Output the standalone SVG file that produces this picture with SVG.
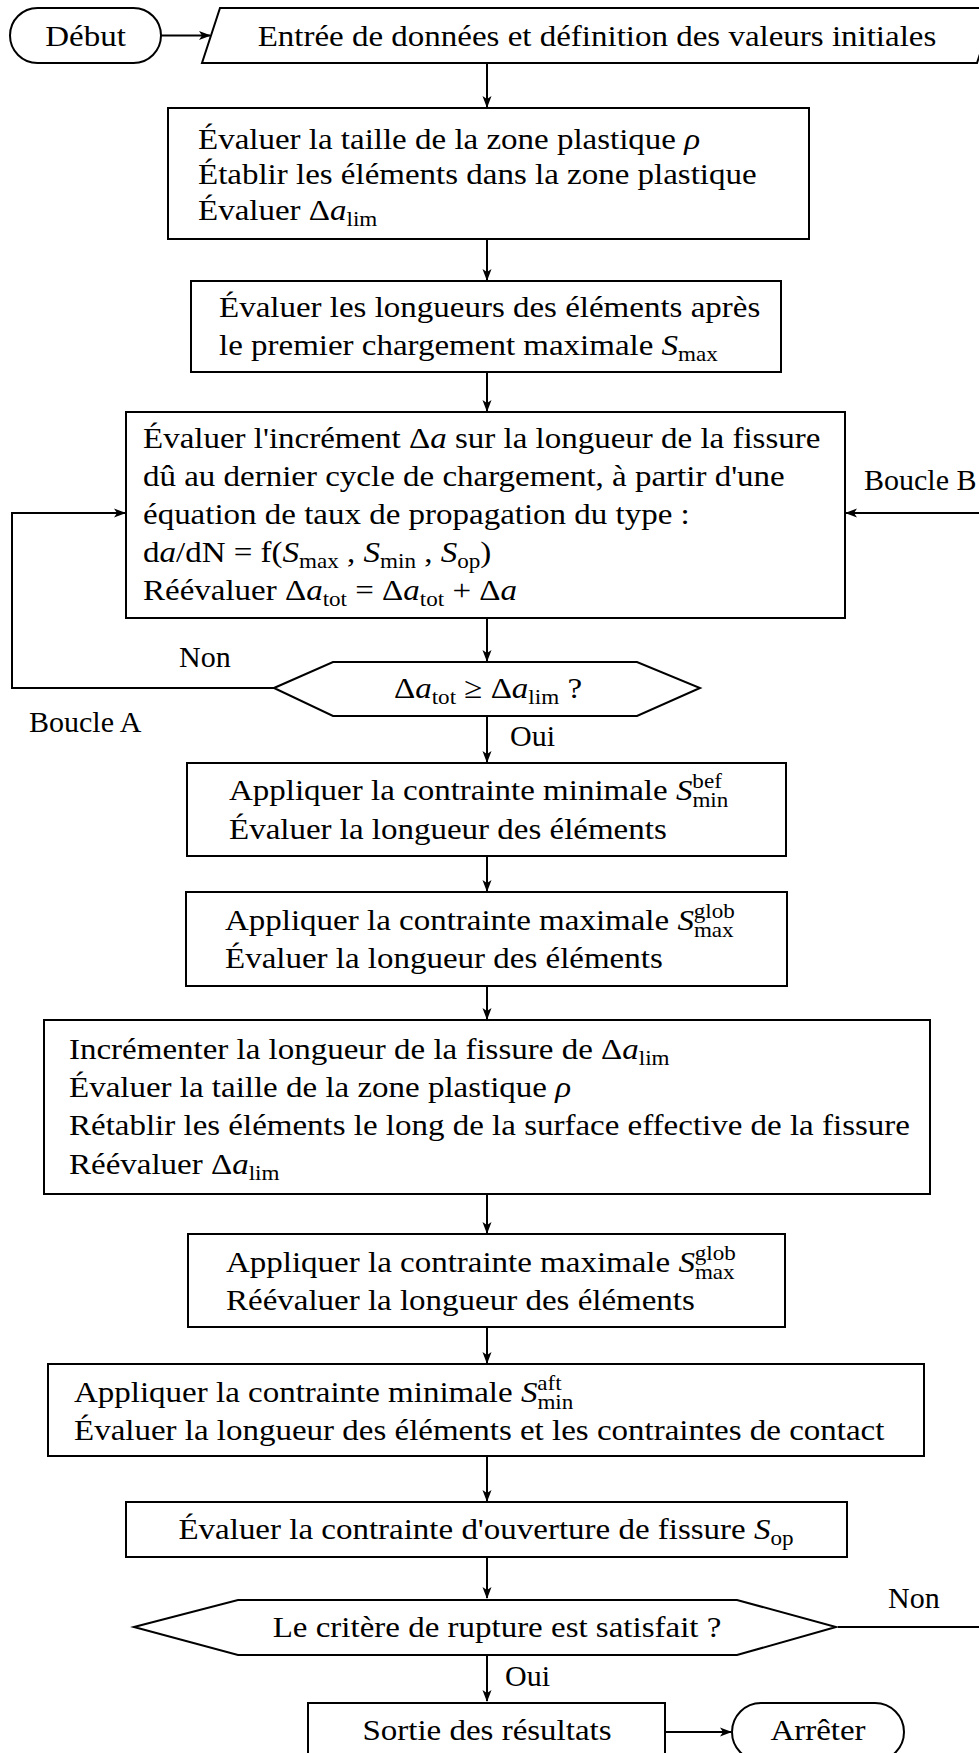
<svg xmlns="http://www.w3.org/2000/svg" width="979" height="1753" viewBox="0 0 979 1753" font-family="'Liberation Serif', 'DejaVu Serif', 'Times New Roman', serif">
<style>
.s{fill:#fff;stroke:#000;stroke-width:2}
.c{fill:none;stroke:#000;stroke-width:2}
text{font-family:'Liberation Serif','DejaVu Serif','Times New Roman',serif;font-size:30px;fill:#000}
.i{font-style:italic}
.sb{font-size:21px}
.m{text-anchor:middle}
</style>
<defs>
<marker id="ah" markerUnits="userSpaceOnUse" markerWidth="12" markerHeight="10" viewBox="0 0 12 10" refX="11" refY="5" orient="auto">
<path d="M0,0.5 L12,5 L0,9.5 L3,5 z" fill="#000"/>
</marker>
</defs>
<rect width="979" height="1753" fill="#fff"/>

<g id="connectors">
<path class="c" d="M161,35.5 H210" marker-end="url(#ah)"/>
<path class="c" d="M487,63 V107" marker-end="url(#ah)"/>
<path class="c" d="M487,239 V280" marker-end="url(#ah)"/>
<path class="c" d="M487,372 V411" marker-end="url(#ah)"/>
<path class="c" d="M487,618 V661" marker-end="url(#ah)"/>
<path class="c" d="M487,716 V762" marker-end="url(#ah)"/>
<path class="c" d="M487,856 V891" marker-end="url(#ah)"/>
<path class="c" d="M487,986 V1019" marker-end="url(#ah)"/>
<path class="c" d="M487,1194 V1233" marker-end="url(#ah)"/>
<path class="c" d="M487,1327 V1363" marker-end="url(#ah)"/>
<path class="c" d="M487,1456 V1501" marker-end="url(#ah)"/>
<path class="c" d="M487,1557 V1598" marker-end="url(#ah)"/>
<path class="c" d="M487,1655 V1701" marker-end="url(#ah)"/>
<path class="c" d="M665,1732 H731" marker-end="url(#ah)"/>
<path class="c" d="M274,688 H12 V513 H125" marker-end="url(#ah)"/>
<path class="c" d="M838,1627 H995"/>
<path class="c" d="M995,513 H846" marker-end="url(#ah)"/>
<text x="179" y="667">Non</text>
<text x="29" y="732">Boucle A</text>
<text x="864" y="490">Boucle B</text>
<text x="510" y="746">Oui</text>
<text x="888" y="1608">Non</text>
<text x="505" y="1686">Oui</text>
</g>

<g id="debut">
<rect class="s" x="10" y="8" width="151" height="55" rx="27.5"/>
<text class="m" transform="translate(85.5,46) scale(1.1,1)">Début</text>
</g>

<g id="entree">
<path class="s" d="M220,8 H995 L977,63 H202 Z"/>
<text class="m" transform="translate(597,46) scale(1.1,1)">Entrée de données et définition des valeurs initiales</text>
</g>

<g id="box1">
<rect class="s" x="168" y="108" width="641" height="131"/>
<text transform="translate(198,149) scale(1.1,1)">Évaluer la taille de la zone plastique <tspan class="i">ρ</tspan></text>
<text transform="translate(198,184) scale(1.1,1)">Établir les éléments dans la zone plastique</text>
<text transform="translate(198,220) scale(1.1,1)">Évaluer Δ<tspan class="i">a</tspan><tspan class="sb" dy="6">lim</tspan></text>
</g>

<g id="box2">
<rect class="s" x="191" y="281" width="590" height="91"/>
<text transform="translate(219,317) scale(1.1,1)">Évaluer les longueurs des éléments après</text>
<text transform="translate(219,355) scale(1.1,1)">le premier chargement maximale <tspan class="i">S</tspan><tspan class="sb" dy="6">max</tspan></text>
</g>

<g id="box3">
<rect class="s" x="126" y="412" width="719" height="206"/>
<text transform="translate(143,448) scale(1.1,1)">Évaluer l'incrément Δ<tspan class="i">a</tspan> sur la longueur de la fissure</text>
<text transform="translate(143,486) scale(1.1,1)">dû au dernier cycle de chargement, à partir d'une</text>
<text transform="translate(143,524) scale(1.1,1)">équation de taux de propagation du type :</text>
<text transform="translate(143,562) scale(1.1,1)">d<tspan class="i">a</tspan>/dN = f(<tspan class="i">S</tspan><tspan class="sb" dy="6">max</tspan><tspan dy="-6"> , </tspan><tspan class="i">S</tspan><tspan class="sb" dy="6">min</tspan><tspan dy="-6"> , </tspan><tspan class="i">S</tspan><tspan class="sb" dy="6">op</tspan><tspan dy="-6">)</tspan></text>
<text transform="translate(143,600) scale(1.1,1)">Réévaluer Δ<tspan class="i">a</tspan><tspan class="sb" dy="6">tot</tspan><tspan dy="-6"> = Δ</tspan><tspan class="i">a</tspan><tspan class="sb" dy="6">tot</tspan><tspan dy="-6"> + Δ</tspan><tspan class="i">a</tspan></text>
</g>

<g id="decision1">
<path class="s" d="M274,688 L333,662 H637 L700,688 L637,716 H333 Z"/>
<text class="m" transform="translate(488,698) scale(1.1,1)">Δ<tspan class="i">a</tspan><tspan class="sb" dy="6">tot</tspan><tspan dy="-6"> ≥ Δ</tspan><tspan class="i">a</tspan><tspan class="sb" dy="6">lim</tspan><tspan dy="-6"> ?</tspan></text>
</g>

<g id="box4">
<rect class="s" x="187" y="763" width="599" height="93"/>
<text transform="translate(229,800) scale(1.1,1)">Appliquer la contrainte minimale <tspan class="i">S</tspan><tspan class="sb" dy="7">min</tspan><tspan class="sb" dx="-32.7" dy="-19">bef</tspan></text>
<text transform="translate(229,839) scale(1.1,1)">Évaluer la longueur des éléments</text>
</g>

<g id="box5">
<rect class="s" x="186" y="892" width="601" height="94"/>
<text transform="translate(225,930) scale(1.1,1)">Appliquer la contrainte maximale <tspan class="i">S</tspan><tspan class="sb" dy="7">max</tspan><tspan class="sb" dx="-36.2" dy="-19">glob</tspan></text>
<text transform="translate(225,968) scale(1.1,1)">Évaluer la longueur des éléments</text>
</g>

<g id="box6">
<rect class="s" x="44" y="1020" width="886" height="174"/>
<text transform="translate(69,1059) scale(1.1,1)">Incrémenter la longueur de la fissure de Δ<tspan class="i">a</tspan><tspan class="sb" dy="6">lim</tspan></text>
<text transform="translate(69,1097) scale(1.1,1)">Évaluer la taille de la zone plastique <tspan class="i">ρ</tspan></text>
<text transform="translate(69,1135) scale(1.1,1)">Rétablir les éléments le long de la surface effective de la fissure</text>
<text transform="translate(69,1174) scale(1.1,1)">Réévaluer Δ<tspan class="i">a</tspan><tspan class="sb" dy="6">lim</tspan></text>
</g>

<g id="box7">
<rect class="s" x="188" y="1234" width="597" height="93"/>
<text transform="translate(226,1272) scale(1.1,1)">Appliquer la contrainte maximale <tspan class="i">S</tspan><tspan class="sb" dy="7">max</tspan><tspan class="sb" dx="-36.2" dy="-19">glob</tspan></text>
<text transform="translate(226,1310) scale(1.1,1)">Réévaluer la longueur des éléments</text>
</g>

<g id="box8">
<rect class="s" x="48" y="1364" width="876" height="92"/>
<text transform="translate(74,1402) scale(1.1,1)">Appliquer la contrainte minimale <tspan class="i">S</tspan><tspan class="sb" dy="7">min</tspan><tspan class="sb" dx="-32.7" dy="-19">aft</tspan></text>
<text transform="translate(74,1440) scale(1.1,1)">Évaluer la longueur des éléments et les contraintes de contact</text>
</g>

<g id="box9">
<rect class="s" x="126" y="1502" width="721" height="55"/>
<text class="m" transform="translate(486,1539) scale(1.1,1)">Évaluer la contrainte d'ouverture de fissure <tspan class="i">S</tspan><tspan class="sb" dy="6">op</tspan></text>
</g>

<g id="decision2">
<path class="s" d="M134,1627 L238,1600 H737 L836,1627 L737,1655 H238 Z"/>
<text class="m" transform="translate(497,1637) scale(1.1,1)">Le critère de rupture est satisfait ?</text>
</g>

<g id="box10">
<rect class="s" x="308" y="1703" width="357" height="60"/>
<text class="m" transform="translate(487,1740) scale(1.1,1)">Sortie des résultats</text>
</g>

<g id="arreter">
<rect class="s" x="732" y="1703" width="172" height="58" rx="29"/>
<text class="m" transform="translate(818,1740) scale(1.1,1)">Arrêter</text>
</g>
</svg>
